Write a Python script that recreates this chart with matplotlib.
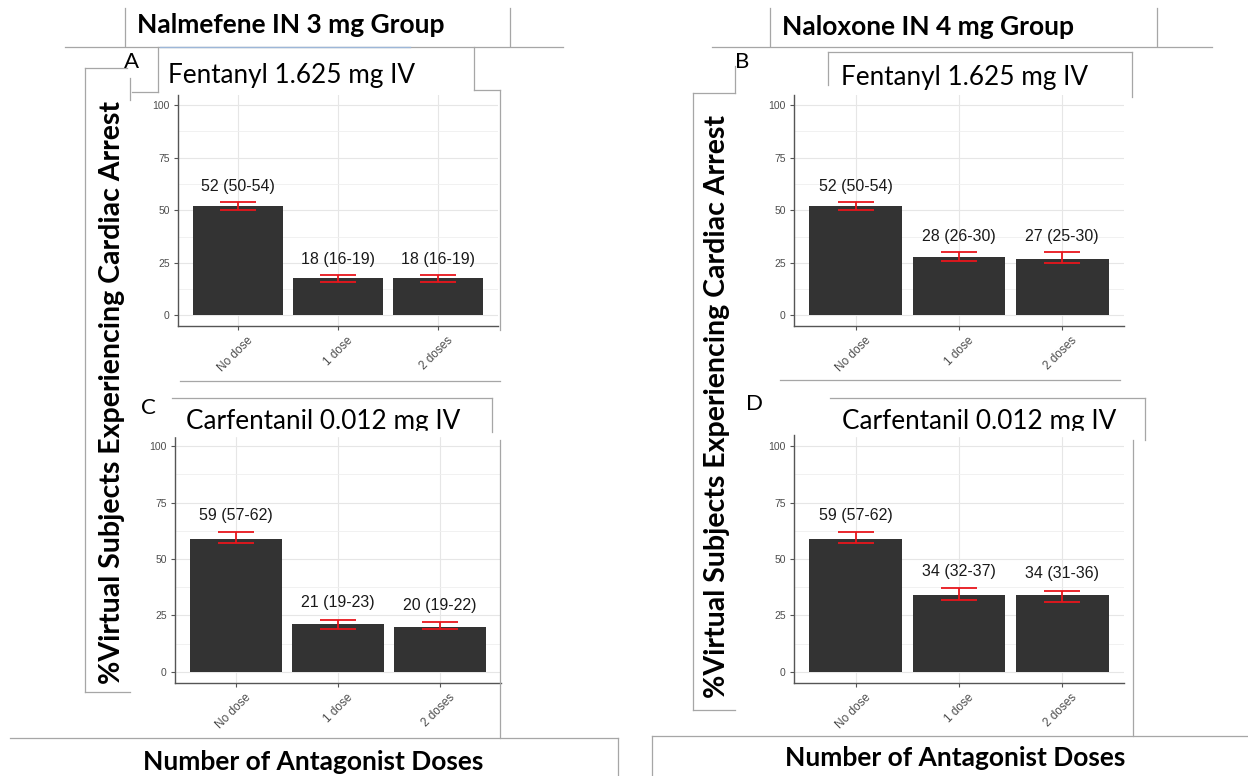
import numpy as np
import matplotlib
matplotlib.use("Agg")
import matplotlib.pyplot as plt
import matplotlib.transforms as mtrans

# Data (percent of virtual subjects with cardiac arrest, median and 95% interval)
doses = ['No dose', '1 dose', '2 doses']

nalmefene_fentanyl = [52, 18, 18]
nalmefene_fentanyl_lo = [50, 16, 16]
nalmefene_fentanyl_hi = [54, 19, 19]

naloxone_fentanyl = [52, 28, 27]
naloxone_fentanyl_lo = [50, 26, 25]
naloxone_fentanyl_hi = [54, 30, 30]

nalmefene_carfentanil = [59, 21, 20]
nalmefene_carfentanil_lo = [57, 19, 19]
nalmefene_carfentanil_hi = [62, 23, 22]

naloxone_carfentanil = [59, 34, 34]
naloxone_carfentanil_lo = [57, 32, 31]
naloxone_carfentanil_hi = [62, 37, 36]

y_ticks = [0, 25, 50, 75, 100]

W, H = 1248, 776
fig = plt.figure(figsize=(W / 100, H / 100), dpi=100)
fig.patch.set_facecolor('white')

HEAD = ['Lato', 'DejaVu Sans']
VALS = ['Liberation Sans', 'DejaVu Sans']


def px_axes(left, right, top, bottom):
    return fig.add_axes([left / W, 1 - bottom / H, (right - left) / W, (bottom - top) / H])


def draw_panel(ax, vals, lo, hi):
    x = np.arange(1, len(doses) + 1)
    vals = np.array(vals)
    lo = np.array(lo)
    hi = np.array(hi)
    ax.bar(x, vals, width=0.9, color='#333333', zorder=2)
    ax.errorbar(x, vals, yerr=[vals - lo, hi - vals], fmt='none', ecolor='#e8161c',
                elinewidth=1.3, capsize=13, capthick=1.3, zorder=3)
    for xi, v, l, h in zip(x, vals, lo, hi):
        ax.text(xi, h + 7.5, f'{v} ({l}-{h})', ha='center', va='center',
                fontsize=11.5, family=VALS, color='#1a1a1a', zorder=4)
    ax.set_xlim(0.4, 3.6)
    ax.set_ylim(-5, 105)
    ax.set_xticks(x)
    ax.set_xticklabels([])
    # rotated category labels, placed like ggplot's angle=45 text
    trans = mtrans.blended_transform_factory(ax.transData, ax.transAxes) + \
        mtrans.ScaledTranslation(9 / 100, -9 / 100, fig.dpi_scale_trans)
    for xi, lab in zip(x, doses):
        ax.text(xi, 0, lab, transform=trans, rotation=45, ha='right', va='top',
                rotation_mode='anchor', fontsize=8.5, color='#4d4d4d', family=VALS,
                clip_on=False)
    ax.set_yticks(y_ticks)
    ax.set_yticklabels([str(t) for t in y_ticks], fontsize=7.5, color='#4d4d4d', family=VALS)
    ax.set_yticks([12.5, 37.5, 62.5, 87.5], minor=True)
    ax.grid(True, which='major', color='#e6e6e6', lw=0.8, zorder=0)
    ax.grid(True, which='minor', axis='y', color='#efefef', lw=0.6, zorder=0)
    ax.set_axisbelow(True)
    for s in ['top', 'right']:
        ax.spines[s].set_visible(False)
    for s in ['left', 'bottom']:
        ax.spines[s].set_color('#555555')
        ax.spines[s].set_linewidth(1.0)
    ax.tick_params(axis='both', which='major', length=3, color='#555555', pad=3)
    ax.tick_params(axis='y', which='minor', length=0)


axA = px_axes(178, 498, 94.5, 326)
axB = px_axes(794, 1124, 94.5, 326)
axC = px_axes(175, 501, 435, 683)
axD = px_axes(794, 1124, 435, 683)

draw_panel(axA, nalmefene_fentanyl, nalmefene_fentanyl_lo, nalmefene_fentanyl_hi)
draw_panel(axB, naloxone_fentanyl, naloxone_fentanyl_lo, naloxone_fentanyl_hi)
draw_panel(axC, nalmefene_carfentanil, nalmefene_carfentanil_lo, nalmefene_carfentanil_hi)
draw_panel(axD, naloxone_carfentanil, naloxone_carfentanil_lo, naloxone_carfentanil_hi)

# overlay in pixel coordinates for the slide-like annotations
ov = fig.add_axes([0, 0, 1, 1], zorder=10)
ov.set_xlim(0, W)
ov.set_ylim(H, 0)
ov.axis('off')
ov.patch.set_alpha(0)

lc = '#a6a6a6'
frame_lines = [
    # left header
    ([125, 125], [8, 46]), ([510, 510], [8, 46]), ([65, 563], [47, 47]),
    ([158, 158], [47, 92]), ([132, 158], [92, 92]), ([474, 474], [47, 90]),
    ([474, 500], [90, 90]), ([500, 500], [90, 330]),
    ([85, 127], [68, 68]), ([85, 85], [68, 692]), ([85, 130], [692, 692]),
    ([130, 130], [78, 100]), ([180, 500], [381, 381]),
    # left lower
    ([172, 492], [398, 398]), ([492, 492], [398, 432]),
    ([500, 500], [440, 738]), ([10, 618], [738, 738]), ([618, 618], [738, 776]),
    # right header
    ([770, 770], [8, 46]), ([1157, 1157], [8, 46]), ([712, 1212], [47, 47]),
    ([828, 1132], [52, 52]), ([1132, 1132], [52, 97]), ([828, 828], [52, 85]),
    ([693, 735], [93, 93]), ([693, 693], [93, 710]), ([693, 735], [710, 710]),
    ([735, 735], [66, 93]), ([780, 1120], [380, 380]),
    # right lower
    ([830, 1145], [398, 398]), ([1145, 1145], [398, 440]),
    ([1133, 1133], [440, 736]), ([652, 1248], [736, 736]), ([652, 652], [736, 776]),
]
for xs, ys in frame_lines:
    ov.plot(xs, ys, color=lc, lw=0.9)
ov.plot([160, 410], [47, 47], color='#9db7d8', lw=1.0)

ov.text(291, 25, 'Nalmefene IN 3 mg Group', ha='center', va='center',
        fontsize=19, fontweight='bold', family=HEAD)
ov.text(928, 27, 'Naloxone IN 4 mg Group', ha='center', va='center',
        fontsize=19, fontweight='bold', family=HEAD)

ov.text(292, 75, 'Fentanyl 1.625 mg IV', ha='center', va='center', fontsize=18.8, family=HEAD)
ov.text(965, 77, 'Fentanyl 1.625 mg IV', ha='center', va='center', fontsize=18.8, family=HEAD)
ov.text(323, 422, 'Carfentanil 0.012 mg IV', ha='center', va='center', fontsize=18.8, family=HEAD)
ov.text(979, 422, 'Carfentanil 0.012 mg IV', ha='center', va='center', fontsize=18.8, family=HEAD)
# slide image overlaps the lower edge of the carfentanil titles
ov.add_patch(plt.Rectangle((170, 431), 320, 5, color='white', zorder=5))
ov.add_patch(plt.Rectangle((830, 431), 300, 5, color='white', zorder=5))

for lx, ly, letter in [(132, 62, 'A'), (742, 62, 'B'), (148, 408, 'C'), (755, 404, 'D')]:
    ov.text(lx, ly, letter, ha='center', va='center', fontsize=16, family=HEAD)

ylab = '%Virtual Subjects Experiencing Cardiac Arrest'
ov.text(112, 393, ylab, rotation=90, ha='center', va='center',
        fontsize=20.5, fontweight='bold', family=HEAD)
ov.text(717, 407, ylab, rotation=90, ha='center', va='center',
        fontsize=20.5, fontweight='bold', family=HEAD)

ov.text(313, 762, 'Number of Antagonist Doses', ha='center', va='center',
        fontsize=19, fontweight='bold', family=HEAD)
ov.text(955, 758, 'Number of Antagonist Doses', ha='center', va='center',
        fontsize=19, fontweight='bold', family=HEAD)

fig.savefig('out.png', dpi=100)
